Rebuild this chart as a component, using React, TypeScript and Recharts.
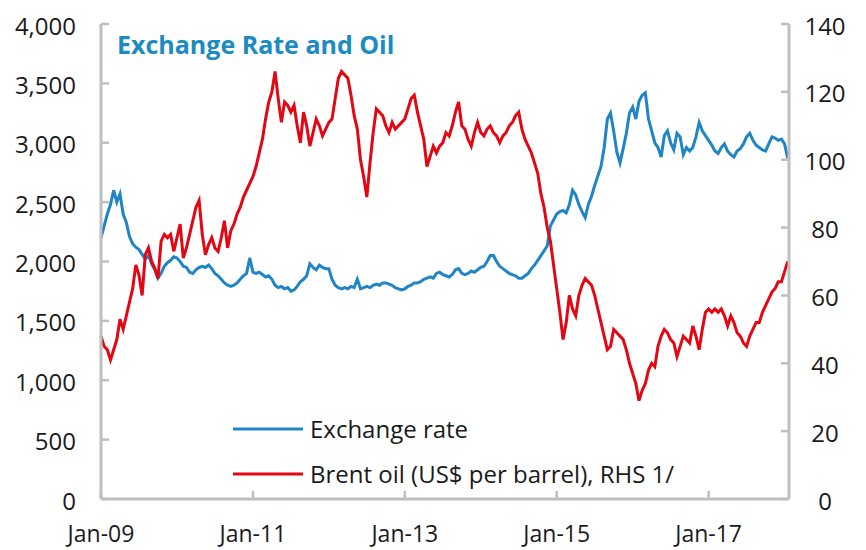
import { Legend, Line, LineChart, XAxis, YAxis } from 'recharts';

// two readings per month, starting Jan-09 (index / 2 = months since Jan-09)
const exchangeRate = [
  2200, 2300, 2400, 2480, 2600, 2500, 2570, 2400, 2330, 2210, 2150, 2120,
  2100, 2060, 2020, 2050, 1980, 1930, 1860, 1900, 1960, 1990, 2010, 2040,
  2030, 2000, 1960, 1950, 1910, 1900, 1930, 1950, 1960, 1950, 1970, 1940,
  1900, 1880, 1850, 1820, 1800, 1790, 1800, 1820, 1850, 1880, 1900, 2030,
  1910, 1900, 1910, 1890, 1870, 1880, 1850, 1800, 1780, 1790, 1770, 1780,
  1750, 1760, 1790, 1830, 1850, 1880, 1980, 1950, 1930, 1970, 1950, 1940,
  1940, 1850, 1800, 1780, 1770, 1780, 1770, 1790, 1780, 1850, 1770, 1780,
  1790, 1780, 1800, 1810, 1800, 1820, 1820, 1810, 1800, 1780, 1770, 1760,
  1770, 1790, 1800, 1820, 1820, 1830, 1850, 1860, 1870, 1860, 1900, 1910,
  1890, 1880, 1870, 1890, 1930, 1940, 1900, 1890, 1900, 1920, 1910, 1930,
  1950, 1960, 2000, 2050, 2050, 2000, 1960, 1940, 1920, 1900, 1890, 1880,
  1860, 1860, 1880, 1900, 1940, 1970, 2010, 2050, 2090, 2130, 2300, 2350,
  2400, 2420, 2430, 2410, 2480, 2600, 2560, 2480, 2420, 2370, 2480, 2550,
  2640, 2720, 2800, 2960, 3200, 3250, 3100, 2920, 2830, 2950, 3080, 3250,
  3300, 3200, 3350, 3400, 3420, 3200, 3100, 3000, 2960, 2880, 3060, 3100,
  3000, 2940, 3080, 3050, 2900, 2960, 2930, 2960, 3050, 3170, 3100, 3060,
  3020, 2980, 2930, 2910, 2960, 2990, 2930, 2900, 2880, 2930, 2950, 2990,
  3050, 3080, 3020, 2980, 2960, 2940, 2930, 2990, 3050, 3040, 3020, 3030,
  2990, 2870,
];

const brentOil = [
  48, 45, 44, 41, 44, 47, 53, 50, 54, 58, 62, 69,
  66, 60, 72, 74, 70, 68, 65, 76, 78, 77, 78, 73,
  77, 81, 71, 74, 78, 82, 86, 88, 78, 72, 75, 77,
  74, 73, 77, 82, 74, 79, 81, 84, 86, 89, 91, 93,
  95, 98, 102, 106, 112, 117, 120, 126, 118, 111, 117, 116,
  114, 116, 110, 105, 114, 110, 104, 108, 112, 110, 107, 109,
  111, 112, 118, 124, 126, 125, 124, 119, 113, 109, 100, 95,
  89, 99, 108, 115, 114, 113, 110, 108, 111, 109, 110, 111,
  112, 115, 118, 119, 114, 110, 106, 98, 101, 104, 102, 104,
  105, 108, 107, 110, 114, 117, 110, 109, 106, 104, 108, 111,
  108, 107, 109, 110, 108, 107, 105, 107, 108, 110, 111, 113,
  114, 109, 106, 104, 102, 99, 96, 90, 86, 80, 76, 69,
  62, 55, 47, 52, 60, 56, 54, 60, 63, 65, 64, 63,
  60, 56, 52, 48, 44, 45, 50, 49, 48, 47, 44, 40,
  37, 34, 29, 32, 34, 38, 40, 39, 45, 48, 50, 49,
  47, 46, 42, 45, 48, 47, 46, 51, 48, 44, 50, 55,
  56, 55, 56, 55, 56, 54, 51, 54, 52, 49, 48, 46,
  45, 48, 50, 52, 52, 55, 57, 59, 61, 62, 64, 64,
  67, 70,
];

const xTicks = [0, 24, 48, 72, 96];
const xTickLabels = ['Jan-09', 'Jan-11', 'Jan-13', 'Jan-15', 'Jan-17'];
const leftTicks = [0, 500, 1000, 1500, 2000, 2500, 3000, 3500, 4000];
const rightTicks = [0, 20, 40, 60, 80, 100, 120, 140];

const data = exchangeRate.map((v, i) => ({ month: i / 2, exchange: v, brent: brentOil[i] }));

const FONT = '"Open Sans", sans-serif';
const FRAME = '#bfbfbf';
const BLUE = '#1f85c6';
const RED = '#e30613';
const TEXT = '#1a1a1a';

function LeftTick({ x, y, payload }: any) {
  return (
    <g>
      <text x={x} y={y + 2} dy="0.355em" textAnchor="end" fontSize={24} fontFamily={FONT} fill={TEXT}>
        {payload.value.toLocaleString('en-US')}
      </text>
      <line x1={x + 25} x2={x + 33} y1={y} y2={y} stroke={FRAME} strokeWidth={2.5} />
    </g>
  );
}

function RightTick({ x, y, payload }: any) {
  return (
    <g>
      <text x={x + 36} y={y + 2} dy="0.355em" textAnchor="middle" fontSize={24} fontFamily={FONT} fill={TEXT}>
        {payload.value}
      </text>
      <line x1={x - 8} x2={x} y1={y} y2={y} stroke={FRAME} strokeWidth={2.5} />
    </g>
  );
}

function BottomTick({ x, y, payload }: any) {
  const idx = xTicks.indexOf(payload.value);
  return (
    <g>
      <text x={x} y={y} dy="0.71em" textAnchor="middle" fontSize={23} fontFamily={FONT} fill={TEXT}>
        {xTickLabels[idx]}
      </text>
      <line x1={x} x2={x} y1={y - 27} y2={y - 35} stroke={FRAME} strokeWidth={2.5} />
    </g>
  );
}

function LegendBox() {
  const rows = [
    { name: 'Exchange rate', color: BLUE },
    { name: 'Brent oil (US$ per barrel), RHS 1/', color: RED },
  ];
  return (
    <div style={{ fontFamily: FONT, fontSize: 24, color: TEXT }}>
      {rows.map((r) => (
        <div key={r.name} style={{ display: 'flex', alignItems: 'center', height: 45, whiteSpace: 'nowrap' }}>
          <svg width={70} height={6}>
            <line x1={0} x2={70} y1={3} y2={3} stroke={r.color} strokeWidth={3} />
          </svg>
          <span style={{ marginLeft: 7 }}>{r.name}</span>
        </div>
      ))}
    </div>
  );
}

export default function App() {
  return (
    <div style={{ position: 'relative', width: 858, height: 542 }}>
      <LineChart width={858} height={542} data={data} margin={{ top: 16, right: 0, left: 0, bottom: 0 }}>
        <XAxis
          dataKey="month"
          type="number"
          domain={[0, 108.7]}
          ticks={xTicks}
          interval={0}
          height={51}
          tickSize={0}
          tickMargin={27}
          tick={<BottomTick />}
          axisLine={{ stroke: FRAME, strokeWidth: 3 }}
          tickLine={false}
        />
        <XAxis
          xAxisId="top"
          dataKey="month"
          type="number"
          domain={[0, 108.7]}
          orientation="top"
          height={0}
          tick={false}
          tickLine={false}
          axisLine={{ stroke: FRAME, strokeWidth: 3 }}
        />
        <YAxis
          yAxisId="left"
          domain={[0, 4000]}
          ticks={leftTicks}
          interval={0}
          width={93}
          tickSize={0}
          tickMargin={25}
          tick={<LeftTick />}
          axisLine={{ stroke: FRAME, strokeWidth: 3 }}
          tickLine={false}
        />
        <YAxis
          yAxisId="right"
          orientation="right"
          domain={[0, 140]}
          ticks={rightTicks}
          interval={0}
          width={77}
          tickSize={0}
          tickMargin={0}
          tick={<RightTick />}
          axisLine={{ stroke: FRAME, strokeWidth: 3 }}
          tickLine={false}
        />
        <Legend
          layout="horizontal"
          verticalAlign="middle"
          align="center"
          content={<LegendBox />}
          wrapperStyle={{ left: 225, top: 398, width: 'auto' }}
        />
        <Line
          yAxisId="left"
          type="linear"
          dataKey="exchange"
          name="Exchange rate"
          stroke={BLUE}
          strokeWidth={3}
          dot={false}
          isAnimationActive={false}
        />
        <Line
          yAxisId="right"
          type="linear"
          dataKey="brent"
          name="Brent oil (US$ per barrel), RHS 1/"
          stroke={RED}
          strokeWidth={3}
          dot={false}
          isAnimationActive={false}
        />
      </LineChart>
      <div
        style={{
          position: 'absolute',
          left: 109,
          top: 19,
          fontFamily: FONT,
          fontWeight: 700,
          fontSize: 25,
          color: '#1b8bc2',
          whiteSpace: 'nowrap',
        }}
      >
        Exchange Rate and Oil
      </div>
    </div>
  );
}
